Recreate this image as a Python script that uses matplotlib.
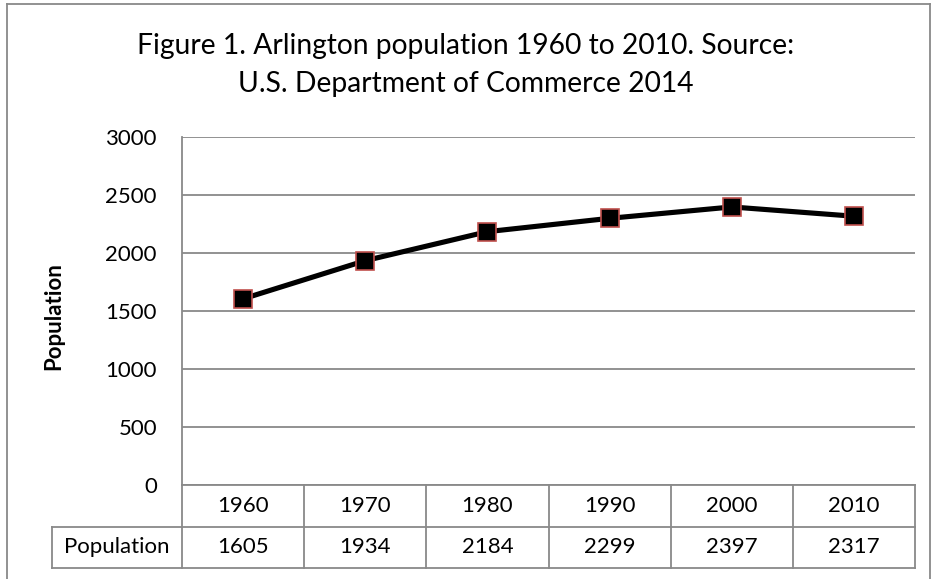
import matplotlib.pyplot as plt
from matplotlib.lines import Line2D
from matplotlib.transforms import blended_transform_factory

years = ['1960', '1970', '1980', '1990', '2000', '2010']
population = [1605, 1934, 2184, 2299, 2397, 2317]
row_label = 'Population'
y_label = 'Population'
title = 'Figure 1. Arlington population 1960 to 2010. Source:\nU.S. Department of Commerce 2014'

plt.rcParams['font.family'] = ['Lato', 'DejaVu Sans']
grid_col = '#898989'
W, H = 932, 579

fig = plt.figure(figsize=(W / 100, H / 100), dpi=100)
# plot area in pixels: left 182, right 915, top 137, bottom 485
ax = fig.add_axes([182 / W, 1 - 485 / H, 733 / W, 348 / H])

# outer chart border (left, top, right)
for xs, ys in [([7, 7], [579, 4]), ([7, 930], [4, 4]), ([930, 930], [4, 579])]:
    fig.add_artist(Line2D([v / W for v in xs], [1 - v / H for v in ys],
                          transform=fig.transFigure, color=grid_col, lw=1.3))

x = list(range(len(years)))
ax.plot(x, population, color='black', linewidth=3.7, marker='s',
        markersize=13.5, markerfacecolor='black', markeredgecolor='#C0504D',
        markeredgewidth=1.2, zorder=5, clip_on=False)

ax.set_xlim(-0.5, len(years) - 0.5)
ax.set_ylim(0, 3000)
ax.set_yticks(range(0, 3001, 500))
ax.set_xticks([])
ax.tick_params(axis='y', length=0, pad=18, labelsize=16)
ax.yaxis.grid(True, color=grid_col, linewidth=1.3)
ax.set_axisbelow(True)
for s in ['top', 'right', 'bottom']:
    ax.spines[s].set_visible(False)
ax.spines['left'].set_color(grid_col)
ax.spines['left'].set_linewidth(1.3)

fig.text(54 / W, 1 - 316 / H, y_label, rotation=90, ha='center', va='center',
         fontsize=16, fontweight='bold')
fig.text(0.5, 1 - 65 / H, title, ha='center', va='center',
         fontsize=20.3, linespacing=1.55)

# data table below the plot
row_h = 41.5 / 348
tr = blended_transform_factory(ax.transData, ax.transAxes)
lw = 1.3
lo = -0.5 - 130 / 733 * len(years)
for k in range(3):
    y = -k * row_h
    x0 = -0.5 if k == 0 else lo
    ax.plot([x0, len(years) - 0.5], [y, y], transform=tr, color=grid_col,
            lw=lw, clip_on=False)
for i in range(len(years) + 1):
    ax.plot([i - 0.5, i - 0.5], [0, -2 * row_h], transform=tr, color=grid_col,
            lw=lw, clip_on=False)
ax.plot([lo, lo], [-row_h, -2 * row_h], transform=tr, color=grid_col, lw=lw,
        clip_on=False)
for i, (yr, p) in enumerate(zip(years, population)):
    ax.text(i, -0.5 * row_h, yr, transform=tr, ha='center', va='center', fontsize=16)
    ax.text(i, -1.5 * row_h, str(p), transform=tr, ha='center', va='center', fontsize=16)
ax.text((lo - 0.5) / 2, -1.5 * row_h, row_label, transform=tr, ha='center',
        va='center', fontsize=16)

fig.savefig('out.png', dpi=100)
